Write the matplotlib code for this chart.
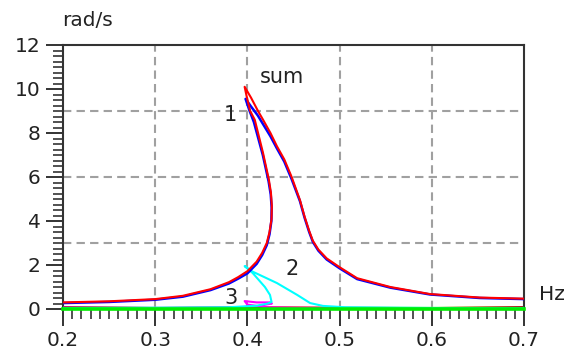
import matplotlib
matplotlib.use("Agg")
import matplotlib.pyplot as plt
from matplotlib.ticker import MultipleLocator, FormatStrFormatter

# sum curve (red), traced along the path: lower branch -> turning back -> upper branch
sum_x = [0.20, 0.25, 0.30, 0.33, 0.36, 0.38, 0.39, 0.40, 0.41, 0.416, 0.421, 0.424, 0.4262,
         0.4265, 0.4255, 0.4232, 0.4169, 0.408, 0.403, 0.399, 0.397,
         0.404, 0.4115, 0.417, 0.425, 0.432, 0.440, 0.448, 0.457, 0.462, 0.467, 0.471, 0.477,
         0.486, 0.50, 0.519, 0.555, 0.598, 0.652, 0.70]
sum_y = [0.30, 0.35, 0.45, 0.60, 0.90, 1.22, 1.45, 1.72, 2.15, 2.55, 3.0, 3.5, 4.1,
         4.7, 5.3, 5.9, 7.1, 8.6, 9.0, 9.7, 10.1,
         9.6, 9.0, 8.6, 8.0, 7.4, 6.8, 6.0, 4.95, 4.2, 3.55, 3.1, 2.7,
         2.3, 1.9, 1.4, 1.0, 0.68, 0.52, 0.47]

# component 1 (blue), mostly under the sum curve
c1_x = [0.20, 0.25, 0.30, 0.33, 0.36, 0.38, 0.39, 0.40, 0.41, 0.416, 0.421, 0.424, 0.4260,
        0.4263, 0.4253, 0.4230, 0.4167, 0.407, 0.402, 0.398,
        0.404, 0.4112, 0.417, 0.425, 0.432, 0.440, 0.448, 0.457, 0.462, 0.467, 0.471, 0.477,
        0.486, 0.50, 0.519, 0.555, 0.598, 0.652, 0.70]
c1_y = [0.27, 0.32, 0.42, 0.56, 0.86, 1.16, 1.38, 1.62, 2.05, 2.45, 2.9, 3.4, 4.0,
        4.6, 5.2, 5.8, 7.0, 8.5, 9.05, 9.55,
        9.2, 8.8, 8.4, 7.85, 7.3, 6.7, 5.9, 4.9, 4.15, 3.5, 3.05, 2.65,
        2.25, 1.85, 1.36, 0.97, 0.66, 0.5, 0.45]

# component 2 (cyan)
c2_x = [0.20, 0.30, 0.38, 0.41, 0.4223, 0.4262, 0.4245, 0.419, 0.4056, 0.397,
        0.4056, 0.432, 0.454, 0.468, 0.482, 0.506, 0.60, 0.70]
c2_y = [0.05, 0.06, 0.08, 0.15, 0.25, 0.32, 0.64, 1.0, 1.64, 1.95,
        1.7, 1.18, 0.64, 0.27, 0.14, 0.08, 0.05, 0.05]

# component 3 (magenta)
c3_x = [0.20, 0.30, 0.38, 0.41, 0.4266, 0.424, 0.41, 0.397, 0.40, 0.42, 0.45, 0.50, 0.60, 0.70]
c3_y = [0.06, 0.05, 0.06, 0.12, 0.25, 0.30, 0.30, 0.36, 0.20, 0.08, 0.06, 0.05, 0.04, 0.04]

# higher components, near zero
hx = [0.20, 0.30, 0.40, 0.50, 0.60, 0.70]
c4_y = [0.08, 0.05, 0.07, 0.06, 0.05, 0.08]
c5_y = [0.09, 0.04, 0.08, 0.05, 0.04, 0.09]
c6_y = [0.00, 0.00, 0.00, 0.00, 0.00, 0.00]

grid_x = [0.3, 0.4, 0.5, 0.6]
grid_y = [3, 6, 9]

fig = plt.figure(figsize=(5.72, 3.58), dpi=100)
ax = fig.add_axes([63/572, 1-309/358, (524-63)/572, (309-45)/358])

for gx in grid_x:
    ax.axvline(gx, color="#a0a0a0", lw=1.5, ls=(0, (4, 2.5)), zorder=1)
for gy in grid_y:
    ax.axhline(gy, color="#a0a0a0", lw=1.5, ls=(0, (4, 2.5)), zorder=1)

ax.plot(hx, c4_y, color="#ffff00", lw=1.5, zorder=2)
ax.plot(hx, c5_y, color="#c00000", lw=1.5, zorder=2)
ax.plot(c3_x, c3_y, color="#ff00ff", lw=1.5, zorder=3)
ax.plot(c2_x, c2_y, color="#00ffff", lw=1.5, zorder=3)
ax.plot(c1_x, c1_y, color="#0000ff", lw=1.8, zorder=4)
ax.plot(sum_x, sum_y, color="#ff0000", lw=1.5, zorder=5)
ax.plot(hx, c6_y, color="#00ee00", lw=2.6, zorder=6, clip_on=False)

ax.text(0.4375, 10.55, "sum", fontsize=15, color="#222222", ha="center", va="center")
ax.text(0.382, 8.8, "1", fontsize=15, color="#222222", ha="center", va="center")
ax.text(0.448, 1.8, "2", fontsize=15, color="#222222", ha="center", va="center")
ax.text(0.382, 0.5, "3", fontsize=15, color="#222222", ha="center", va="center")

ax.set_xlim(0.2, 0.7)
ax.set_ylim(0, 12)
ax.xaxis.set_major_locator(MultipleLocator(0.1))
ax.xaxis.set_minor_locator(MultipleLocator(0.01))
ax.yaxis.set_major_locator(MultipleLocator(2))
ax.yaxis.set_minor_locator(MultipleLocator(0.25))
ax.xaxis.set_major_formatter(FormatStrFormatter("%.1f"))
ax.tick_params(which="major", length=12, width=1.4, color="#333333", labelsize=14.5,
               labelcolor="#222222", pad=4)
ax.tick_params(which="minor", length=7, width=1.2, color="#333333")
for s in ax.spines.values():
    s.set_color("#333333")
    s.set_linewidth(1.5)

fig.text(62/572, 1-20/358, "rad/s", fontsize=14.5, color="#222222", va="center", ha="left")
fig.text(552/572, 1-295/358, "Hz", fontsize=14.5, color="#222222", va="center", ha="center")

fig.savefig("out.png", dpi=100)
